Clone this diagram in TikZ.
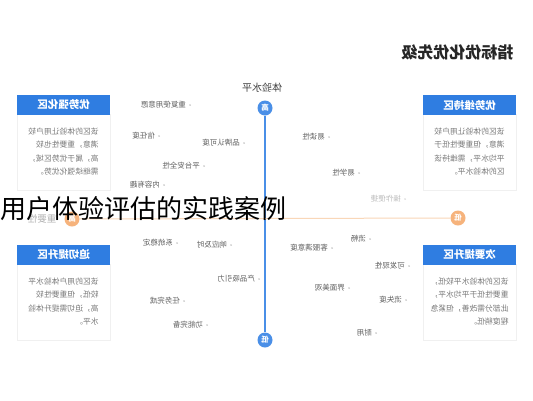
\documentclass[tikz,border=0pt]{standalone}
\usepackage{fontspec}
\usepackage{graphicx}
\setmainfont{Noto Sans CJK SC}
\usetikzlibrary{positioning, calc, shadows}

\definecolor{zoneblue}{HTML}{2F7DE1}
\definecolor{axisblue}{HTML}{4A8FE7}
\definecolor{axisorange}{HTML}{F6B37C}
\definecolor{lineorange}{HTML}{F9D7B8}
\definecolor{bodygray}{HTML}{7A7A7A}
\definecolor{metricgray}{HTML}{606060}

% mirrored text, as the picture prints it
\newcommand{\mir}[1]{\reflectbox{#1}}
\newcommand{\mirlines}[1]{\reflectbox{\begin{tabular}{@{}l@{}}#1\end{tabular}}}

\begin{document}
\begin{tikzpicture}[
    x=1pt, y=-1pt,
    zonehead/.style={rectangle, fill=zoneblue, text=white, minimum width=93pt, minimum height=20pt, inner sep=0pt, font=\fontsize{10.5}{11}\selectfont\bfseries},
    zonebody/.style={rectangle, fill=white, draw=gray!12, minimum width=93pt, minimum height=76pt, inner sep=0pt, font=\fontsize{7.8}{13.5}\selectfont, text=bodygray, drop shadow={opacity=0.08, shadow xshift=0pt, shadow yshift=-1pt}},
    metric/.style={anchor=east, inner sep=0pt, font=\fontsize{7.5}{8}\selectfont, text=metricgray},
    pin/.style={circle, fill=gray!45, minimum size=1.8pt, inner sep=0pt},
    vend/.style={circle, fill=axisblue, text=white, minimum size=15pt, inner sep=0pt, font=\fontsize{7.5}{8}\selectfont\bfseries},
    hend/.style={circle, fill=axisorange, text=white, minimum size=15pt, inner sep=0pt, font=\fontsize{7.5}{8}\selectfont\bfseries}
]
\useasboundingbox (0,0) rectangle (533,400);
\fill[white] (0,0) rectangle (533,400);

% heading
\node[anchor=east, font=\fontsize{16}{17}\selectfont\bfseries, text=black!85] (heading) at (517,52) {\mir{指标优化优先级}};

% axes
\node[vend] (vtop) at (265,108) {\mir{高}};
\node[vend] (vbot) at (265,340) {\mir{低}};
\node[font=\fontsize{10}{11}\selectfont, text=black!75] (vlabel) at (262,88) {\mir{体验水平}};
\draw[axisblue, line width=1.4pt] (vtop) -- (vbot);

\node[hend] (hleft) at (72,219) {\mir{高}};
\node[hend] (hright) at (458,218) {\mir{低}};
\node[anchor=east, font=\fontsize{9.5}{10}\selectfont, text=gray!60] (hlabel) at (60,219) {\mir{重要性}};
\draw[lineorange, line width=1pt] (hleft) -- (hright);

% zones
\node[zonebody] (bodyA) at (63.5,152) {\mirlines{该区的体验让用户较\\满意，重要性也较\\高，属于优势区域，\\需继续强化优势。}};
\node[zonehead] (headA) at (63.5,105) {\mir{优势强化区}};
\node[zonebody] (bodyB) at (469.5,152) {\mirlines{该区的体验让用户较\\满意，但重要性低于\\平均水平，需维持该\\区的体验水平。}};
\node[zonehead] (headB) at (469.5,105) {\mir{优势维持区}};
\node[zonebody] (bodyC) at (63.5,302) {\mirlines{该区的用户体验水平\\较低，但重要性较\\高，迫切需提升体验\\水平。}};
\node[zonehead] (headC) at (63.5,255) {\mir{迫切提升区}};
\node[zonebody] (bodyD) at (469.5,302) {\mirlines{该区的体验水平较低，\\重要性低于平均水平，\\此部分需改善，但紧急\\程度稍低。}};
\node[zonehead] (headD) at (469.5,255) {\mir{次要提升区}};

% metrics
\foreach \name/\px/\py/\txt in {
    m1/186/105/重复使用意愿, m2/155/136/信任度, m3/240/143/品牌认可度,
    m4/200/166/平台安全性, m5/160/185/内容有趣,
    m6/325/137/易读性, m7/355/173/易学性,
    m9/173/243/系统稳定, m10/227/245/响应及时, m11/255/279/产品吸引力,
    m12/180/301/任务完成, m13/203/325/功能完备,
    m14/328/248/客服满意度, m15/366/239/流畅, m16/405/266/可发现性,
    m17/345/288/界面美观, m18/402/300/流失度, m19/372/333/耐用}
{
    \node[metric] (\name) at (\px,\py) {\mir{\txt}};
    \node[pin, right=3pt of \name] (\name p) {};
}
\node[metric, text=gray!50] (m8) at (401,199) {\mir{操作便捷}};
\node[pin, fill=gray!30, right=3pt of m8] (m8p) {};

% overlay caption
\node[anchor=west, inner sep=0pt, font=\fontsize{26}{28}\selectfont, text=black] (caption) at (0,209) {用户体验评估的实践案例};
\end{tikzpicture}
\end{document}
